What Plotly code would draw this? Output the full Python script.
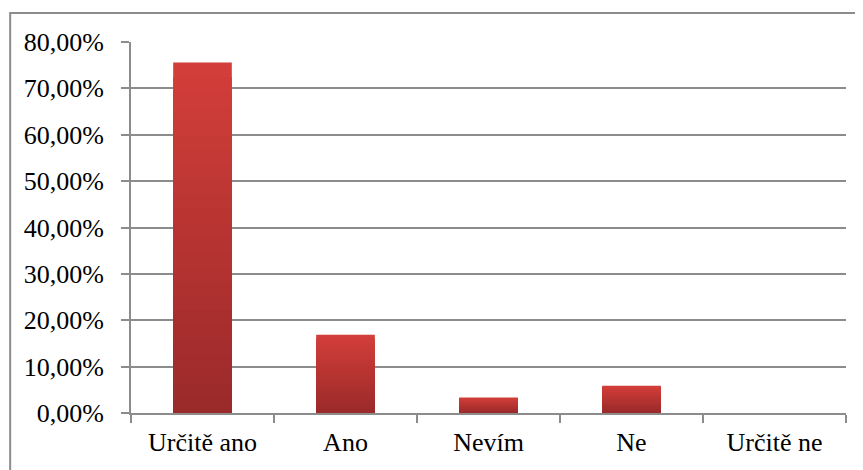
import plotly.graph_objects as go

# data
kategorie = ["Určitě ano", "Ano", "Nevím", "Ne", "Určitě ne"]
podil = [0.7556, 0.1690, 0.0335, 0.0590, 0.0]
tick_vals = [0, 0.1, 0.2, 0.3, 0.4, 0.5, 0.6, 0.7, 0.8]
tick_text = ["0,00%", "10,00%", "20,00%", "30,00%", "40,00%",
             "50,00%", "60,00%", "70,00%", "80,00%"]

# vertical gradient: light red on top, dark red at the bottom
top_rgb = (210, 62, 57)
bot_rgb = (155, 42, 42)
n_steps = 24

fig = go.Figure()

# overlay bars of shrinking height, each a bit darker -> fake gradient
for k in range(n_steps):
    f = 1 - k / n_steps
    t = k / (n_steps - 1)
    col = "rgb(%d,%d,%d)" % tuple(round(a + (b - a) * t) for a, b in zip(top_rgb, bot_rgb))
    fig.add_trace(go.Bar(
        x=kategorie,
        y=[v * f for v in podil],
        marker=dict(color=col, line=dict(width=0)),
        width=0.41,
        hoverinfo="skip" if k else None,
        showlegend=False,
    ))

# page body has an 8px margin, so the figure is 8px smaller than the window
fig.update_layout(
    width=855, height=462,
    barmode="overlay",
    paper_bgcolor="white",
    plot_bgcolor="white",
    margin=dict(l=123, r=17, t=34, b=57),
    font=dict(family="Liberation Serif", size=26, color="black"),
    xaxis=dict(
        showgrid=False,
        showline=True, linecolor="#8c8c8c", linewidth=2,
        ticks="outside", tickson="boundaries", ticklen=8, tickcolor="#8c8c8c", tickwidth=2,
        ticklabelstandoff=5,
    ),
    yaxis=dict(
        range=[0, 0.8],
        tickvals=tick_vals, ticktext=tick_text,
        showgrid=True, gridcolor="#8c8c8c", gridwidth=2,
        showline=True, linecolor="#8c8c8c", linewidth=2,
        ticks="outside", ticklen=8, tickcolor="#8c8c8c", tickwidth=2,
        ticklabelstandoff=12,
        zeroline=False,
    ),
    shapes=[
        # outer chart frame (cut off on the right and bottom like the original)
        dict(type="rect", xref="paper", yref="paper",
             x0=-0.169, x1=1.2, y0=-0.4, y1=1.078,
             line=dict(color="#8c8c8c", width=2), layer="below"),
    ],
)

fig.write_html("out.html")
